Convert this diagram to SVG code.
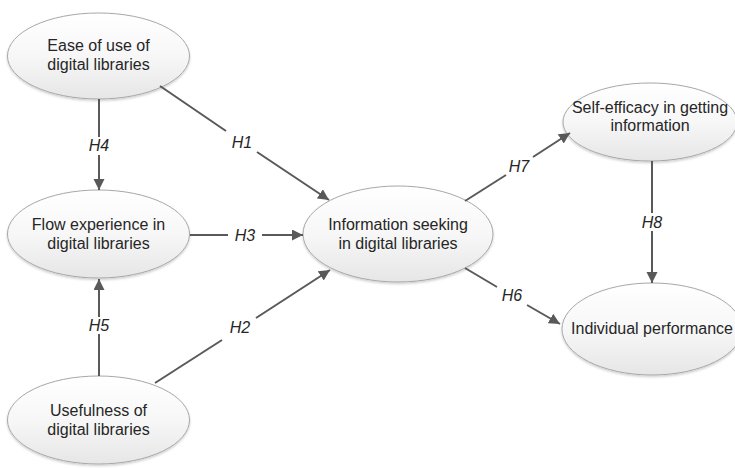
<svg xmlns="http://www.w3.org/2000/svg" width="735" height="468" viewBox="0 0 735 468">
  <defs>
    <linearGradient id="g" x1="0" y1="0" x2="0" y2="1">
      <stop offset="0" stop-color="#ffffff"/>
      <stop offset="0.5" stop-color="#f7f7f7"/>
      <stop offset="1" stop-color="#e6e6e6"/>
    </linearGradient>
    <filter id="sh" x="-10%" y="-10%" width="120%" height="130%">
      <feDropShadow dx="0" dy="1.5" stdDeviation="1" flood-color="#000" flood-opacity="0.2"/>
    </filter>
    <marker id="ar" markerUnits="userSpaceOnUse" markerWidth="12" markerHeight="12" refX="11" refY="5.5" orient="auto">
      <path d="M0,0 L11,5.5 L0,11 z" fill="#595959"/>
    </marker>
  </defs>
  <style>
    .n ellipse { fill: url(#g); stroke: #a8a8a8; stroke-width: 1; filter: url(#sh); }
    .n text { font-family: "Liberation Sans", Arial, sans-serif; font-size: 16px; fill: #262626; text-anchor: middle; }
    .c line { stroke: #595959; stroke-width: 2; fill: none; }
    .c .a { marker-end: url(#ar); }
    .lb text { font-family: "Liberation Sans", Arial, sans-serif; font-size: 16px; font-style: italic; fill: #262626; text-anchor: middle; }
  </style>

  <g id="ease" class="n">
    <ellipse cx="98.5" cy="56" rx="91" ry="43"/>
    <text x="98.5" y="51">Ease of use of</text>
    <text x="98.5" y="70">digital libraries</text>
  </g>
  <g id="flow" class="n">
    <ellipse cx="98.5" cy="234" rx="91" ry="44"/>
    <text x="98.5" y="230">Flow experience in</text>
    <text x="98.5" y="249">digital libraries</text>
  </g>
  <g id="usefulness" class="n">
    <ellipse cx="98.5" cy="420" rx="91" ry="44"/>
    <text x="98.5" y="416">Usefulness of</text>
    <text x="98.5" y="435">digital libraries</text>
  </g>
  <g id="info" class="n">
    <ellipse cx="398" cy="234" rx="95" ry="48"/>
    <text x="398" y="230">Information seeking</text>
    <text x="398" y="249">in digital libraries</text>
  </g>
  <g id="self" class="n">
    <ellipse cx="650" cy="122" rx="87" ry="39"/>
    <text x="650" y="113">Self-efficacy in getting</text>
    <text x="650" y="131">information</text>
  </g>
  <g id="perf" class="n">
    <ellipse cx="652" cy="329" rx="90" ry="46"/>
    <text x="652" y="334">Individual performance</text>
  </g>

  <g id="connectors" class="c">
    <line x1="99" y1="99" x2="99" y2="137"/>
    <line class="a" x1="99" y1="155" x2="99" y2="190"/>
    <line x1="160" y1="86" x2="226" y2="131"/>
    <line class="a" x1="257" y1="152" x2="329" y2="200"/>
    <line x1="190" y1="235" x2="228" y2="235"/>
    <line class="a" x1="262" y1="235" x2="303" y2="235"/>
    <line x1="99" y1="376" x2="99" y2="334"/>
    <line class="a" x1="99" y1="317" x2="99" y2="279"/>
    <line x1="155" y1="383" x2="222" y2="340"/>
    <line class="a" x1="256" y1="318" x2="330" y2="270"/>
    <line x1="465" y1="201" x2="506" y2="175"/>
    <line class="a" x1="533" y1="157" x2="570" y2="133"/>
    <line x1="465" y1="268" x2="497" y2="287"/>
    <line class="a" x1="527" y1="305" x2="560" y2="324"/>
    <line x1="652" y1="161" x2="652" y2="213"/>
    <line class="a" x1="652" y1="231" x2="652" y2="283"/>
  </g>

  <g id="labels" class="lb">
    <text x="99" y="151">H4</text>
    <text x="242" y="148">H1</text>
    <text x="245" y="241">H3</text>
    <text x="99" y="331">H5</text>
    <text x="240" y="333">H2</text>
    <text x="519" y="172">H7</text>
    <text x="512" y="301">H6</text>
    <text x="652" y="228">H8</text>
  </g>
</svg>
